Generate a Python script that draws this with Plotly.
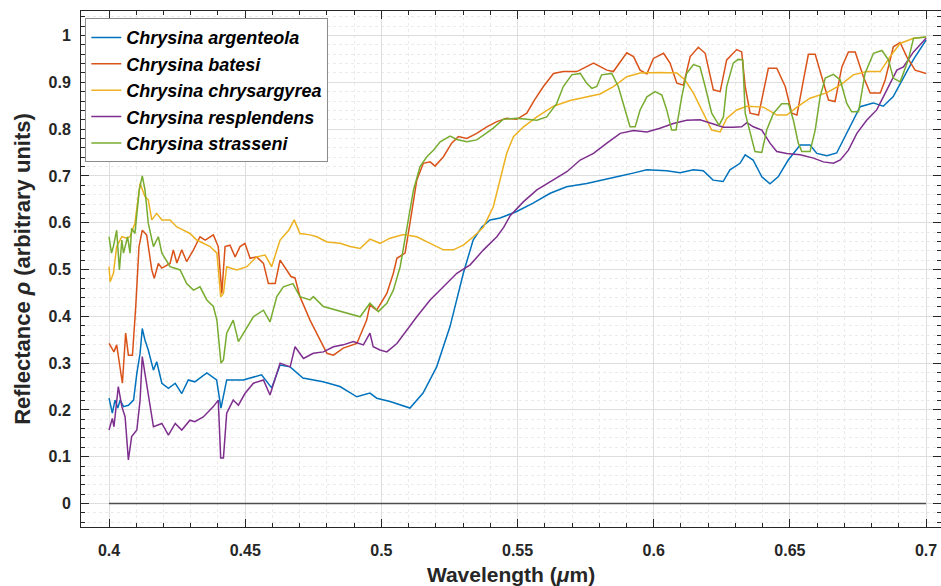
import plotly.graph_objects as go

# ---------------- data (wavelength in µm, reflectance) ----------------
ARGENTEOLA = [(0.4000,0.225),(0.4012,0.193),(0.4022,0.221),(0.4032,0.204),(0.4041,0.221),(0.4053,0.207),
 (0.4071,0.210),(0.4090,0.221),(0.4102,0.278),(0.4114,0.321),(0.4122,0.374),(0.4132,0.349),(0.4144,0.328),
 (0.4163,0.285),(0.4175,0.303),(0.4194,0.257),(0.4218,0.246),(0.4243,0.257),(0.4267,0.235),(0.4291,0.264),
 (0.4315,0.260),(0.4359,0.279),(0.4395,0.264),(0.4411,0.204),(0.4432,0.264),(0.4493,0.264),(0.4560,0.275),
 (0.4597,0.247),(0.4628,0.296),(0.4665,0.292),(0.4712,0.268),(0.4786,0.260),(0.4848,0.250),(0.4910,0.228),
 (0.4958,0.236),(0.4983,0.225),(0.5032,0.218),(0.5105,0.204),(0.5153,0.236),(0.5203,0.292),(0.5252,0.378),
 (0.5301,0.492),(0.5337,0.563),(0.5369,0.591),(0.5399,0.606),(0.5436,0.610),(0.5497,0.624),(0.5557,0.642),
 (0.5620,0.663),(0.5680,0.677),(0.5754,0.684),(0.5803,0.691),(0.5877,0.700),(0.5924,0.706),(0.5975,0.713),
 (0.6048,0.711),(0.6097,0.707),(0.6146,0.713),(0.6182,0.711),(0.6218,0.691),(0.6255,0.688),(0.6280,0.713),
 (0.6317,0.727),(0.6336,0.745),(0.6365,0.734),(0.6397,0.698),(0.6427,0.683),(0.6457,0.698),(0.6494,0.734),
 (0.6538,0.766),(0.6574,0.766),(0.6599,0.748),(0.6636,0.743),(0.6672,0.749),(0.6709,0.791),(0.6758,0.848),
 (0.6806,0.856),(0.6843,0.849),(0.6879,0.869),(0.6916,0.909),(0.6953,0.948),(0.7000,0.990)]

BATESI = [(0.4000,0.342),(0.4018,0.324),(0.4028,0.339),(0.4037,0.307),(0.4049,0.257),(0.4061,0.364),
 (0.4071,0.317),(0.4086,0.317),(0.4098,0.421),(0.4110,0.549),(0.4122,0.584),(0.4138,0.574),(0.4157,0.499),
 (0.4166,0.481),(0.4181,0.513),(0.4194,0.503),(0.4224,0.513),(0.4236,0.542),(0.4249,0.514),(0.4267,0.542),
 (0.4285,0.517),(0.4310,0.542),(0.4334,0.570),(0.4353,0.563),(0.4383,0.574),(0.4401,0.549),(0.4414,0.449),
 (0.4426,0.549),(0.4444,0.552),(0.4463,0.527),(0.4481,0.549),(0.4499,0.556),(0.4518,0.524),(0.4542,0.527),
 (0.4567,0.513),(0.4585,0.470),(0.4610,0.470),(0.4628,0.520),(0.4653,0.499),(0.4668,0.485),(0.4683,0.482),
 (0.4701,0.442),(0.4738,0.392),(0.4775,0.349),(0.4800,0.321),(0.4824,0.317),(0.4860,0.332),(0.4910,0.342),
 (0.4946,0.392),(0.4958,0.424),(0.4983,0.413),(0.5020,0.449),(0.5044,0.492),(0.5057,0.524),(0.5087,0.535),
 (0.5105,0.599),(0.5130,0.691),(0.5154,0.727),(0.5179,0.730),(0.5197,0.721),(0.5228,0.741),(0.5258,0.770),
 (0.5283,0.784),(0.5314,0.780),(0.5350,0.791),(0.5387,0.805),(0.5424,0.816),(0.5460,0.823),(0.5497,0.821),
 (0.5534,0.834),(0.5562,0.862),(0.5595,0.891),(0.5632,0.919),(0.5668,0.923),(0.5718,0.923),(0.5779,0.941),
 (0.5828,0.926),(0.5852,0.923),(0.5901,0.963),(0.5926,0.955),(0.5950,0.926),(0.5975,0.918),(0.5999,0.951),
 (0.6036,0.962),(0.6060,0.941),(0.6085,0.898),(0.6109,0.894),(0.6134,0.955),(0.6164,0.975),(0.6189,0.962),
 (0.6219,0.884),(0.6244,0.880),(0.6268,0.948),(0.6305,0.970),(0.6323,0.965),(0.6336,0.891),(0.6354,0.834),
 (0.6385,0.830),(0.6409,0.898),(0.6421,0.930),(0.6452,0.930),(0.6483,0.891),(0.6507,0.834),(0.6526,0.830),
 (0.6550,0.905),(0.6568,0.960),(0.6593,0.960),(0.6617,0.912),(0.6642,0.862),(0.6666,0.859),(0.6691,0.933),
 (0.6715,0.965),(0.6740,0.965),(0.6770,0.912),(0.6795,0.877),(0.6832,0.877),(0.6850,0.905),(0.6880,0.976),
 (0.6905,0.985),(0.6929,0.955),(0.6960,0.926),(0.7000,0.919)]

CHRYSARGYREA = [(0.4000,0.506),(0.4004,0.474),(0.4016,0.492),(0.4028,0.549),(0.4047,0.570),(0.4065,0.567),
 (0.4077,0.570),(0.4095,0.599),(0.4114,0.684),(0.4132,0.656),(0.4144,0.649),(0.4157,0.606),(0.4175,0.620),
 (0.4194,0.606),(0.4224,0.606),(0.4249,0.591),(0.4273,0.584),(0.4297,0.577),(0.4322,0.563),(0.4346,0.556),
 (0.4371,0.549),(0.4396,0.535),(0.4410,0.442),(0.4420,0.449),(0.4432,0.506),(0.4469,0.499),(0.4506,0.506),
 (0.4542,0.527),(0.4573,0.531),(0.4597,0.506),(0.4628,0.563),(0.4660,0.584),(0.4680,0.606),(0.4701,0.577),
 (0.4738,0.574),(0.4763,0.570),(0.4800,0.559),(0.4848,0.556),(0.4885,0.549),(0.4922,0.545),(0.4958,0.565),
 (0.4995,0.556),(0.5032,0.567),(0.5081,0.575),(0.5130,0.570),(0.5179,0.556),(0.5228,0.542),(0.5264,0.542),
 (0.5301,0.552),(0.5338,0.570),(0.5375,0.591),(0.5411,0.634),(0.5442,0.706),(0.5460,0.748),(0.5485,0.784),
 (0.5522,0.805),(0.5571,0.826),(0.5632,0.849),(0.5693,0.861),(0.5754,0.869),(0.5803,0.875),(0.5852,0.891),
 (0.5901,0.912),(0.5950,0.920),(0.6023,0.921),(0.6085,0.920),(0.6115,0.905),(0.6146,0.877),(0.6183,0.834),
 (0.6213,0.798),(0.6244,0.794),(0.6268,0.823),(0.6305,0.841),(0.6342,0.849),(0.6403,0.847),(0.6452,0.830),
 (0.6489,0.830),(0.6526,0.847),(0.6574,0.866),(0.6636,0.878),(0.6685,0.894),(0.6733,0.916),(0.6782,0.923),
 (0.6832,0.923),(0.6868,0.955),(0.6905,0.983),(0.6954,0.994),(0.7000,0.997)]

RESPLENDENS = [(0.4000,0.157),(0.4012,0.182),(0.4018,0.164),(0.4034,0.250),(0.4047,0.207),(0.4059,0.185),
 (0.4071,0.093),(0.4083,0.143),(0.4102,0.157),(0.4114,0.221),(0.4122,0.314),(0.4132,0.278),(0.4144,0.235),
 (0.4163,0.164),(0.4194,0.171),(0.4218,0.146),(0.4243,0.171),(0.4267,0.157),(0.4297,0.178),(0.4315,0.175),
 (0.4346,0.185),(0.4383,0.207),(0.4401,0.221),(0.4410,0.097),(0.4420,0.097),(0.4432,0.193),(0.4456,0.221),
 (0.4475,0.210),(0.4499,0.235),(0.4530,0.257),(0.4567,0.264),(0.4591,0.232),(0.4628,0.300),(0.4665,0.292),
 (0.4683,0.335),(0.4714,0.310),(0.4750,0.321),(0.4787,0.324),(0.4824,0.335),(0.4860,0.339),(0.4897,0.346),
 (0.4934,0.339),(0.4958,0.364),(0.4970,0.335),(0.4995,0.328),(0.5020,0.324),(0.5057,0.342),(0.5093,0.371),
 (0.5130,0.399),(0.5179,0.435),(0.5228,0.463),(0.5277,0.492),(0.5326,0.510),(0.5375,0.542),(0.5424,0.570),
 (0.5449,0.590),(0.5473,0.615),(0.5522,0.645),(0.5571,0.670),(0.5620,0.688),(0.5681,0.709),(0.5730,0.734),
 (0.5779,0.748),(0.5828,0.770),(0.5877,0.791),(0.5926,0.797),(0.5975,0.794),(0.6023,0.802),(0.6072,0.812),
 (0.6121,0.819),(0.6170,0.820),(0.6219,0.811),(0.6256,0.804),(0.6293,0.804),(0.6323,0.805),(0.6342,0.814),
 (0.6366,0.805),(0.6397,0.798),(0.6427,0.770),(0.6452,0.752),(0.6489,0.748),(0.6538,0.745),(0.6587,0.738),
 (0.6623,0.730),(0.6660,0.727),(0.6685,0.734),(0.6715,0.755),(0.6746,0.791),(0.6782,0.819),(0.6819,0.841),
 (0.6856,0.884),(0.6893,0.926),(0.6917,0.933),(0.6954,0.965),(0.7000,0.994)]

STRASSENI = [(0.4000,0.570),(0.4009,0.535),(0.4016,0.549),(0.4028,0.584),(0.4038,0.499),(0.4047,0.563),
 (0.4053,0.535),(0.4068,0.570),(0.4077,0.535),(0.4083,0.588),(0.4095,0.577),(0.4111,0.670),(0.4122,0.700),
 (0.4132,0.670),(0.4144,0.599),(0.4163,0.549),(0.4181,0.570),(0.4194,0.535),(0.4224,0.506),(0.4261,0.499),
 (0.4285,0.470),(0.4310,0.456),(0.4334,0.463),(0.4359,0.435),(0.4383,0.421),(0.4396,0.392),(0.4411,0.300),
 (0.4420,0.307),(0.4432,0.364),(0.4456,0.392),(0.4475,0.346),(0.4493,0.364),(0.4530,0.399),(0.4567,0.413),
 (0.4591,0.388),(0.4616,0.442),(0.4640,0.463),(0.4675,0.470),(0.4701,0.442),(0.4738,0.435),(0.4750,0.442),
 (0.4787,0.421),(0.4836,0.413),(0.4885,0.406),(0.4922,0.399),(0.4958,0.428),(0.4989,0.410),(0.5020,0.428),
 (0.5044,0.456),(0.5069,0.506),(0.5093,0.591),(0.5118,0.670),(0.5142,0.720),(0.5167,0.741),(0.5191,0.755),
 (0.5216,0.773),(0.5252,0.785),(0.5277,0.778),(0.5314,0.773),(0.5350,0.777),(0.5375,0.787),(0.5411,0.802),
 (0.5448,0.821),(0.5497,0.823),(0.5534,0.821),(0.5571,0.819),(0.5607,0.826),(0.5644,0.855),(0.5668,0.891),
 (0.5699,0.916),(0.5730,0.919),(0.5754,0.898),(0.5773,0.887),(0.5791,0.891),(0.5809,0.916),(0.5846,0.919),
 (0.5870,0.891),(0.5895,0.841),(0.5913,0.805),(0.5932,0.805),(0.5950,0.841),(0.5975,0.869),(0.6005,0.880),
 (0.6030,0.873),(0.6048,0.841),(0.6066,0.798),(0.6082,0.798),(0.6103,0.869),(0.6121,0.919),(0.6146,0.938),
 (0.6170,0.933),(0.6189,0.891),(0.6213,0.834),(0.6240,0.808),(0.6256,0.826),(0.6268,0.891),(0.6292,0.941),
 (0.6310,0.949),(0.6327,0.948),(0.6336,0.834),(0.6354,0.791),(0.6372,0.752),(0.6397,0.750),(0.6415,0.798),
 (0.6440,0.834),(0.6470,0.854),(0.6495,0.854),(0.6513,0.819),(0.6531,0.770),(0.6544,0.752),(0.6574,0.752),
 (0.6593,0.798),(0.6611,0.869),(0.6630,0.909),(0.6660,0.917),(0.6685,0.905),(0.6709,0.855),(0.6727,0.837),
 (0.6752,0.837),(0.6776,0.919),(0.6807,0.962),(0.6838,0.968),(0.6862,0.948),(0.6880,0.909),(0.6905,0.901),
 (0.6935,0.948),(0.6954,0.994),(0.7000,0.997)]

ZERO_LINE = [(0.4, 0.0), (0.7, 0.0)]

SERIES_NAMES = ["Chrysina argenteola", "Chrysina batesi", "Chrysina chrysargyrea",
                "Chrysina resplendens", "Chrysina strasseni"]
SERIES_DATA = [ARGENTEOLA, BATESI, CHRYSARGYREA, RESPLENDENS, STRASSENI]
COLORS = ["#0072BD", "#D95319", "#EDB120", "#7E2F8E", "#77AC30"]

X_TICKS = [0.4, 0.45, 0.5, 0.55, 0.6, 0.65, 0.7]
Y_TICKS = [0, 0.1, 0.2, 0.3, 0.4, 0.5, 0.6, 0.7, 0.8, 0.9, 1]

FONT = "Liberation Sans, Arial, sans-serif"

fig = go.Figure()
zx, zy = zip(*ZERO_LINE)
fig.add_trace(go.Scatter(x=zx, y=zy, mode="lines", line=dict(color="#4d4d4d", width=1.5),
                         showlegend=False, hoverinfo="skip"))
for name, data, col in zip(SERIES_NAMES, SERIES_DATA, COLORS):
    xs, ys = zip(*data)
    fig.add_trace(go.Scatter(x=xs, y=ys, mode="lines", name=name,
                             line=dict(color=col, width=1.5)))

axis_common = dict(
    showline=True, linecolor="#262626", linewidth=1,
    ticks="inside", ticklen=8, tickwidth=1, tickcolor="#262626",
    showgrid=True, gridcolor="#dedede", gridwidth=1,
    zeroline=False, mirror="ticks", automargin=False,
    tickfont=dict(family=FONT, size=16, color="#262626", weight="bold"),
)

fig.update_layout(
    width=941, height=586,
    margin=dict(l=81, r=0, t=11, b=59),
    paper_bgcolor="white", plot_bgcolor="white",
    font=dict(family=FONT, color="#262626"),
    xaxis=dict(
        **axis_common,
        range=[0.3897, 0.7055],
        tickvals=X_TICKS, ticktext=[f"{v:g}" for v in X_TICKS],
        ticklabelstandoff=9,
        minor=dict(dtick=0.01, tick0=0.4, ticks="inside", ticklen=4, tickcolor="#262626",
                   showgrid=True, gridcolor="#ebebeb", griddash="dot"),
        title=dict(text="Wavelength (<i>μ</i>m)", standoff=10,
                   font=dict(family=FONT, size=21, color="#262626", weight="bold")),
    ),
    yaxis=dict(
        **axis_common,
        range=[-0.0502, 1.0524],
        tickvals=Y_TICKS, ticktext=[f"{v:g}" for v in Y_TICKS],
        ticklabelstandoff=6,
        minor=dict(dtick=0.02, tick0=0, ticks="inside", ticklen=4, tickcolor="#262626",
                   showgrid=True, gridcolor="#ebebeb", griddash="dot"),
        title=dict(text="Reflectance <i>ρ</i> (arbitrary units)", standoff=11,
                   font=dict(family=FONT, size=22, color="#262626", weight="bold")),
    ),
    legend=dict(
        x=0.005, y=0.986, xanchor="left", yanchor="top",
        bgcolor="white", bordercolor="#8c8c8c", borderwidth=1,
        font=dict(family=FONT, size=18, color="#000000", weight="bold", style="italic"),
        itemwidth=30, tracegroupgap=0,
    ),
)

fig.write_html("out.html", config={"displayModeBar": False},
               post_script="document.body.style.margin='0';document.body.style.padding='0';")
